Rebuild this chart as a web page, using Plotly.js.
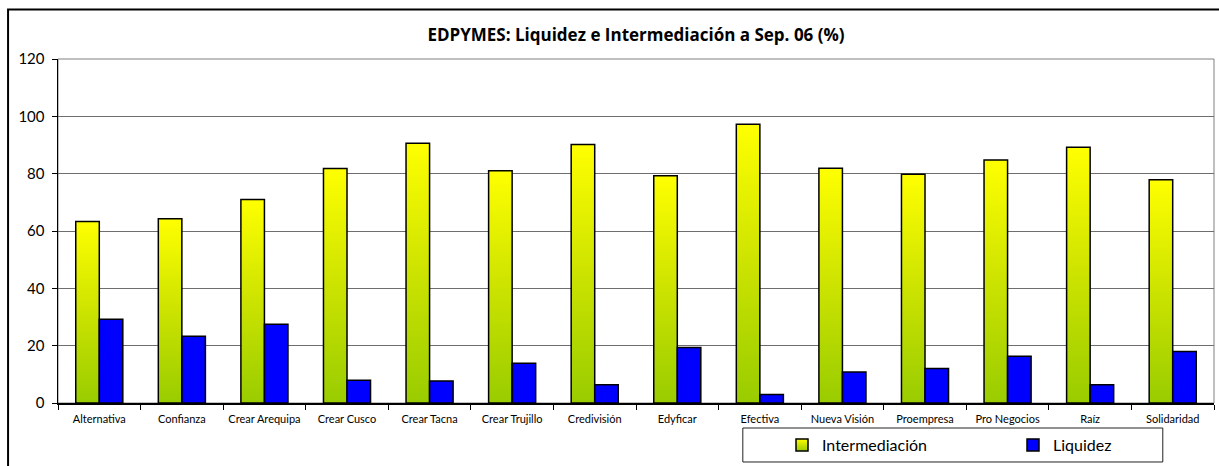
<!DOCTYPE html>
<html>
<head>
<meta charset="utf-8">
<script src="https://cdn.plot.ly/plotly-3.0.1.min.js"></script>
<style>
  html, body { margin: 0; padding: 0; background: #fff; }
  #chart { width: 1219px; height: 466px; }
</style>
</head>
<body>
<div id="chart"></div>
<script>
// ---- Data ----
const categories = ["Alternativa", "Confianza", "Crear Arequipa", "Crear Cusco", "Crear Tacna",
  "Crear Trujillo", "Credivisión", "Edyficar", "Efectiva", "Nueva Visión", "Proempresa",
  "Pro Negocios", "Raíz", "Solidaridad"];
const intermediacion = [63.3, 64.3, 71.0, 81.8, 90.6, 81.0, 90.2, 79.3, 97.2, 81.9, 79.8, 84.8, 89.2, 77.9];
const liquidez = [29.2, 23.3, 27.5, 7.9, 7.7, 13.9, 6.4, 19.4, 3.0, 10.8, 12.0, 16.3, 6.4, 18.0];
const yTicks = [0, 20, 40, 60, 80, 100, 120];
const titleText = "EDPYMES: Liquidez e Intermediación a Sep. 06 (%)";
const seriesNames = ["Intermediación", "Liquidez"];

const FONT = "Lato, Open Sans, sans-serif";
const TITLE_FONT = "Open Sans, Noto Sans, sans-serif";

const traces = [
  {
    type: "bar", name: seriesNames[0], x: categories, y: intermediacion,
    marker: { color: "#CCE600", line: { color: "#000", width: 1.5 } },
    hoverinfo: "x+y"
  },
  {
    type: "bar", name: seriesNames[1], x: categories, y: liquidez,
    marker: { color: "#0000FF", line: { color: "#000", width: 1.5 } },
    hoverinfo: "x+y"
  }
];

const layout = {
  width: 1219, height: 466,
  margin: { l: 58, r: 5, t: 59, b: 63, pad: 0, autoexpand: false },
  paper_bgcolor: "#fff", plot_bgcolor: "#fff",
  font: { family: FONT, color: "#000" },
  title: {
    text: "<b>" + titleText + "</b>",
    font: { family: TITLE_FONT, size: 17, color: "#000" },
    x: 0.5, xref: "paper", xanchor: "center",
    y: 1 - 35.5 / 466, yref: "container", yanchor: "middle"
  },
  barmode: "group",
  bargap: 0.43,
  bargroupgap: 0,
  showlegend: true,
  legend: {
    orientation: "h",
    xref: "container", yref: "container",
    x: 782 / 1219, xanchor: "left",
    y: 1 - 445 / 466, yanchor: "middle",
    entrywidth: 186, entrywidthmode: "pixels",
    font: { family: FONT, size: 16, color: "#000" },
    bgcolor: "rgba(0,0,0,0)", borderwidth: 0,
    traceorder: "normal"
  },
  xaxis: {
    type: "category",
    tickson: "boundaries",
    ticks: "outside", ticklen: 5, tickcolor: "#000", tickwidth: 1,
    ticklabelstandoff: 5,
    showline: true, linecolor: "#000", linewidth: 1.5,
    showgrid: false, zeroline: false,
    tickfont: { family: FONT, size: 11, color: "#000" },
    tickangle: 0, automargin: false
  },
  yaxis: {
    range: [0, 120],
    tickvals: yTicks,
    ticks: "outside", ticklen: 5, tickcolor: "#000", tickwidth: 1,
    ticklabelstandoff: 4,
    showline: true, linecolor: "#000", linewidth: 1.5,
    showgrid: true, gridcolor: "#6e6e6e", gridwidth: 1,
    zeroline: false,
    tickfont: { family: FONT, size: 15, color: "#000" },
    automargin: false
  },
  shapes: [
    // outer chart frame
    { type: "rect", xref: "paper", yref: "paper", x0: -0.0432, x1: 1.02, y0: -0.25, y1: 1.1436,
      line: { color: "#000", width: 2 }, fillcolor: "rgba(0,0,0,0)", layer: "below" },
    // plot area border
    { type: "rect", xref: "paper", yref: "paper", x0: 0, x1: 1, y0: 0, y1: 1,
      line: { color: "#808080", width: 1 }, fillcolor: "rgba(0,0,0,0)", layer: "below" },
    // legend box
    { type: "rect", xref: "paper", yref: "paper", x0: 0.5924, x1: 0.9557, y0: -0.1715, y1: -0.0727,
      line: { color: "#222", width: 1 }, fillcolor: "rgba(0,0,0,0)", layer: "above" }
  ]
};

const gd = document.getElementById("chart");

function applyGradient() {
  const svg = gd.querySelector("svg.main-svg");
  if (!svg) return;
  let defs = svg.querySelector("defs");
  if (!defs) {
    defs = document.createElementNS("http://www.w3.org/2000/svg", "defs");
    svg.insertBefore(defs, svg.firstChild);
  }
  if (!svg.querySelector("#gradInter")) {
    const g = document.createElementNS("http://www.w3.org/2000/svg", "linearGradient");
    g.setAttribute("id", "gradInter");
    g.setAttribute("x1", "0"); g.setAttribute("y1", "0");
    g.setAttribute("x2", "0"); g.setAttribute("y2", "1");
    const stops = [["0", "#FFFF00"], ["0.5", "#CCE300"], ["1", "#99CC00"]];
    stops.forEach(([o, c]) => {
      const s = document.createElementNS("http://www.w3.org/2000/svg", "stop");
      s.setAttribute("offset", o); s.setAttribute("stop-color", c);
      g.appendChild(s);
    });
    defs.appendChild(g);
  }
  const barTraces = gd.querySelectorAll(".barlayer .trace");
  if (barTraces.length) {
    barTraces[0].querySelectorAll("path").forEach(p => { p.style.fill = "url(#gradInter)"; });
  }
  const legendTraces = gd.querySelectorAll(".legend .traces");
  if (legendTraces.length) {
    legendTraces[0].querySelectorAll(".legendpoints path").forEach(p => { p.style.fill = "url(#gradInter)"; });
  }
}

Plotly.newPlot(gd, traces, layout, { displayModeBar: false, staticPlot: true }).then(() => {
  applyGradient();
  gd.on && gd.on("plotly_afterplot", applyGradient);
});
</script>
</body>
</html>
